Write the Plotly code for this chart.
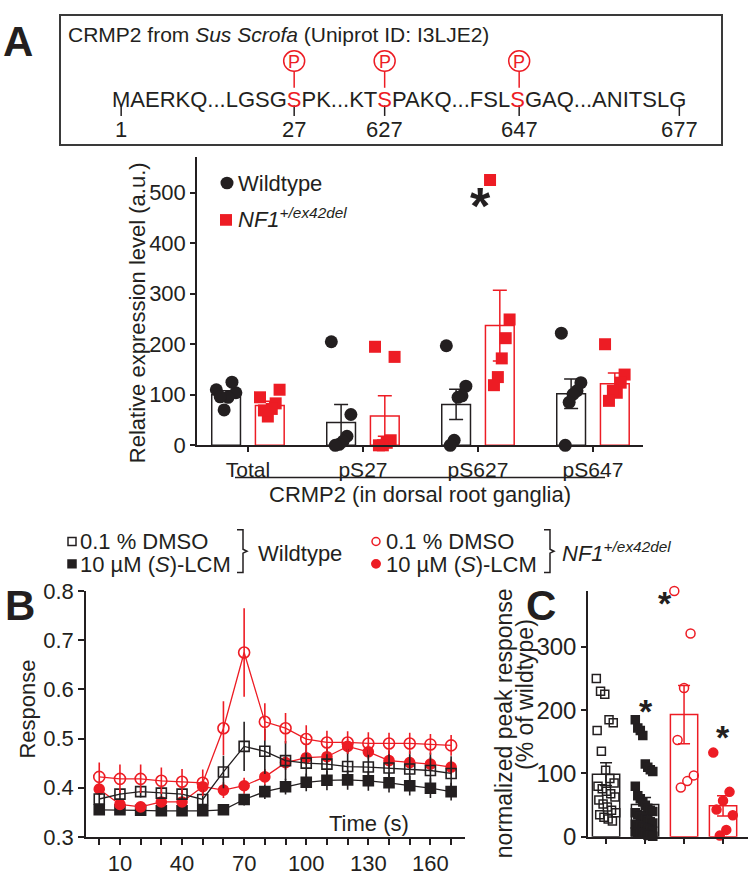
import plotly.graph_objects as go

W, H = 750, 879
def PX(x): return x / W
def PY(y): return 1 - y / H

RED = '#ED1C24'
BLK = '#231F20'
FONT = 'Liberation Sans, Arial, sans-serif'

# ---------------- data: panel A ----------------
categories = ['Total', 'pS27', 'pS627', 'pS647']
wt_mean = [100, 45, 81, 102]
wt_sem = [8, 36, 30, 29]
nf1_mean = [79, 58, 237, 122]
nf1_sem = [8, 40, 70, 21]
wt_points = [[110, 104, 125, 95, 70, 96],
             [205, 61, 18, 8, 2, 0],
             [197, 117, 98, 95, 10, 0],
             [222, 124, 108, 101, 85, 0]]
nf1_points = [[95, 110, 83, 72, 57, 69],
              [195, 175, 10, 5, 0, 0],
              [525, 249, 212, 172, 135, 119],
              [200, 140, 124, 104, 108, 88]]
yA_ticks = [0, 100, 200, 300, 400, 500]

# ---------------- data: panel B ----------------
time_s = [0, 10, 20, 30, 40, 50, 60, 70, 80, 90, 100, 110, 120, 130, 140, 150, 160, 170]
time_labeled = [10, 40, 70, 100, 130, 160]
wt_dmso = [0.377, 0.387, 0.392, 0.389, 0.387, 0.376, 0.432, 0.484, 0.474, 0.455, 0.450, 0.448,
           0.443, 0.442, 0.440, 0.438, 0.435, 0.429]
wt_dmso_err = [0.012, 0.012, 0.012, 0.012, 0.012, 0.020, 0.033, 0.050, 0.046, 0.040, 0.037, 0.036,
               0.036, 0.036, 0.036, 0.036, 0.036, 0.035]
wt_lcm = [0.355, 0.355, 0.354, 0.353, 0.353, 0.353, 0.355, 0.376, 0.392, 0.402, 0.411, 0.415,
          0.416, 0.414, 0.410, 0.404, 0.399, 0.392]
wt_lcm_err = [0.008, 0.008, 0.008, 0.008, 0.008, 0.008, 0.008, 0.012, 0.015, 0.016, 0.018, 0.020,
              0.020, 0.020, 0.020, 0.020, 0.020, 0.018]
nf_dmso = [0.422, 0.418, 0.418, 0.414, 0.412, 0.410, 0.521, 0.675, 0.534, 0.521, 0.499, 0.492,
           0.492, 0.490, 0.490, 0.490, 0.488, 0.486]
nf_dmso_err = [0.029, 0.029, 0.029, 0.027, 0.026, 0.027, 0.055, 0.090, 0.038, 0.031, 0.028, 0.024,
               0.023, 0.023, 0.022, 0.022, 0.021, 0.021]
nf_lcm = [0.397, 0.366, 0.361, 0.371, 0.371, 0.402, 0.395, 0.404, 0.422, 0.451, 0.461, 0.463,
          0.484, 0.473, 0.455, 0.451, 0.448, 0.442]
nf_lcm_err = [0.012, 0.010, 0.008, 0.010, 0.010, 0.014, 0.016, 0.016, 0.016, 0.015, 0.015, 0.015,
              0.015, 0.015, 0.015, 0.015, 0.015, 0.015]

# ---------------- data: panel C ----------------
c_mean = [99, 51, 193, 49]
c_sem = [18, 11, 46, 16]
c_wt_dmso = [250, 230, 225, 185, 180, 168, 135, 105, 92, 85, 80, 76, 72, 68, 63, 58, 52, 47,
             42, 38, 35, 31, 28, 25]
c_wt_lcm = [185, 172, 168, 160, 115, 110, 106, 103, 80, 65, 60, 55, 50, 45, 42, 40, 38, 35, 32,
            30, 28, 26, 24, 22, 20, 18, 16, 15, 13, 12, 10, 9, 8, 7, 6, 5, 4, 3, 2, 1]
c_nf_dmso = [388, 321, 235, 153, 97, 88, 78]
c_nf_lcm = [133, 71, 57, 43, 34, 11, 2]
yC_ticks = [0, 100, 200, 300]


def spread(n, w):
    if n == 1:
        return [0.0]
    return [w * (((i * 5) % n) / (n - 1) - 0.5) for i in range(n)]


fig = go.Figure()

# ---------- Panel A chart ----------
xa_wt = [i - 0.19 for i in range(4)]
xa_nf = [i + 0.19 for i in range(4)]
fig.add_trace(go.Bar(x=xa_wt, y=wt_mean, width=0.25,
                     marker=dict(color='white', line=dict(color=BLK, width=1.5)),
                     error_y=dict(type='data', array=wt_sem, color=BLK, thickness=1.5, width=7),
                     xaxis='x', yaxis='y'))
fig.add_trace(go.Bar(x=xa_nf, y=nf1_mean, width=0.25,
                     marker=dict(color='white', line=dict(color=RED, width=1.5)),
                     error_y=dict(type='data', array=nf1_sem, color=RED, thickness=1.5, width=7),
                     xaxis='x', yaxis='y'))
px_wt, py_wt, px_nf, py_nf = [], [], [], []
for i in range(4):
    for d, v in zip(spread(len(wt_points[i]), 0.17), wt_points[i]):
        px_wt.append(xa_wt[i] + d); py_wt.append(v)
    for d, v in zip(spread(len(nf1_points[i]), 0.17), nf1_points[i]):
        px_nf.append(xa_nf[i] + d); py_nf.append(v)
fig.add_trace(go.Scatter(x=px_wt, y=py_wt, mode='markers', cliponaxis=False,
                         marker=dict(symbol='circle', size=13, color=BLK), xaxis='x', yaxis='y'))
fig.add_trace(go.Scatter(x=px_nf, y=py_nf, mode='markers', cliponaxis=False,
                         marker=dict(symbol='square', size=12, color=RED), xaxis='x', yaxis='y'))

# ---------- Panel B ----------
def lineTrace(y, err, color, symbol, size):
    return go.Scatter(x=time_s, y=y, mode='lines+markers', cliponaxis=False,
                      line=dict(color=color, width=1.3),
                      marker=dict(symbol=symbol, size=size, color=color, line=dict(width=1.6, color=color)),
                      error_y=dict(type='data', array=err, color=color, thickness=1.6, width=0),
                      xaxis='x2', yaxis='y2')

fig.add_trace(lineTrace(wt_lcm, wt_lcm_err, BLK, 'square', 10))
fig.add_trace(lineTrace(nf_lcm, nf_lcm_err, RED, 'circle', 10))
fig.add_trace(lineTrace(wt_dmso, wt_dmso_err, BLK, 'square-open', 10))
fig.add_trace(lineTrace(nf_dmso, nf_dmso_err, RED, 'circle-open', 11))

# ---------- Panel C ----------
fig.add_trace(go.Bar(x=[0, 1], y=c_mean[:2], width=0.7,
                     marker=dict(color='white', line=dict(color=BLK, width=1.5)),
                     error_y=dict(type='data', array=c_sem[:2], color=BLK, thickness=1.5, width=6),
                     xaxis='x3', yaxis='y3'))
fig.add_trace(go.Bar(x=[2, 3], y=c_mean[2:], width=0.7,
                     marker=dict(color='white', line=dict(color=RED, width=1.5)),
                     error_y=dict(type='data', array=c_sem[2:], color=RED, thickness=1.5, width=6),
                     xaxis='x3', yaxis='y3'))
groupsC = [(c_wt_dmso, 'square-open', BLK, 8), (c_wt_lcm, 'square', BLK, 8),
           (c_nf_dmso, 'circle-open', RED, 9), (c_nf_lcm, 'circle', RED, 9)]
for gi, (vals, sym, col, sz) in enumerate(groupsC):
    xs = [gi + d for d in spread(len(vals), 0.5)]
    fig.add_trace(go.Scatter(x=xs, y=vals, mode='markers', cliponaxis=False,
                             marker=dict(symbol=sym, size=sz, color=col, line=dict(width=1.5, color=col)),
                             xaxis='x3', yaxis='y3'))

axis_common = dict(showline=True, linecolor=BLK, linewidth=1.5, ticks='outside', tickcolor=BLK,
                   tickwidth=1.5, showgrid=False, zeroline=False, fixedrange=True)

B_BOT, B_TOP = 849, 596

fig.update_layout(
    width=W, height=H, margin=dict(l=0, r=0, t=0, b=0),
    paper_bgcolor='white', plot_bgcolor='white', showlegend=False, barmode='overlay',
    font=dict(family=FONT, color=BLK),
    xaxis=dict(domain=[PX(197), PX(643)], range=[-0.443, 3.435], tickvals=[0, 1, 2, 3],
               ticktext=categories, ticklen=5, tickfont=dict(size=21), anchor='y', **axis_common),
    yaxis=dict(domain=[PY(446), PY(149)], range=[0, 571], tickvals=yA_ticks, ticklen=5,
               tickfont=dict(size=22), anchor='x', **axis_common),
    xaxis2=dict(domain=[PX(86), PX(465)], range=[-6.4, 176.7], tickvals=time_labeled,
                ticklen=6, tickfont=dict(size=22), anchor='y2',
                minor=dict(tickvals=time_s, ticks='outside', ticklen=6, tickcolor=BLK, tickwidth=1.5),
                **axis_common),
    yaxis2=dict(domain=[PY(B_BOT), PY(B_TOP)], range=[0.3, 0.8], dtick=0.1, tick0=0.3, tickformat='.1f',
                ticklen=6, tickfont=dict(size=22), anchor='x2', **axis_common),
    xaxis3=dict(domain=[PX(588), PX(748)], range=[-0.463, 3.64], tickvals=[0, 1, 2, 3],
                showticklabels=False, ticklen=5, anchor='y3', **axis_common),
    yaxis3=dict(domain=[PY(B_BOT), PY(B_TOP)], range=[0, 388], tickvals=yC_ticks, ticklen=5,
                tickfont=dict(size=24), anchor='x3', **axis_common),
)

ann = []
def txt(x, y, s, size=22, xanchor='left', yanchor='middle', color=BLK, angle=0, family=FONT):
    ann.append(dict(x=PX(x), y=PY(y), xref='paper', yref='paper', text=s, showarrow=False,
                    xanchor=xanchor, yanchor=yanchor, textangle=angle,
                    font=dict(size=size, color=color, family=family)))

shapes = []
def line(x0, y0, x1, y1, color=BLK, width=1.5):
    shapes.append(dict(type='line', xref='paper', yref='paper', x0=PX(x0), y0=PY(y0),
                       x1=PX(x1), y1=PY(y1), line=dict(color=color, width=width)))

# panel letters
txt(18, 30, '<b>A</b>', size=42, xanchor='center')
txt(20, 611, '<b>B</b>', size=42, xanchor='center')
txt(541, 611, '<b>C</b>', size=42, xanchor='center')

# ---------- panel A header box ----------
shapes.append(dict(type='rect', xref='paper', yref='paper', x0=PX(60), x1=PX(722), y0=PY(137), y1=PY(3),
                   line=dict(color='#3a3a3a', width=2), fillcolor='rgba(0,0,0,0)'))
txt(66, 23, 'CRMP2 from <i>Sus Scrofa</i> (Uniprot ID: I3LJE2)', size=21)

seq_parts = ['MAERKQ...LGSG', 'S', 'PK...KT', 'S', 'PAKQ...FSL', 'S', 'GAQ...ANITSLG']
site_labels = ['27', '627', '647']
end_labels = ['1', '677']
cw = {'M': .833, 'A': .667, 'E': .667, 'R': .722, 'K': .667, 'Q': .778, '.': .278, 'L': .556,
      'G': .778, 'S': .667, 'P': .667, 'T': .611, 'F': .611, 'N': .722, 'I': .278}
SEQ_X0, SEQ_Y, SEQ_FS = 112, 90, 22
seq_html = ''
s_centers = []
cursor = SEQ_X0
for k, part in enumerate(seq_parts):
    w = sum(cw[c] for c in part) * SEQ_FS
    if k % 2 == 1:
        seq_html += '<span style="color:%s">%s</span>' % (RED, part)
        s_centers.append(cursor + w / 2)
    else:
        seq_html += part
    cursor += w
first_c = SEQ_X0 + cw['M'] * SEQ_FS / 2
last_c = cursor - cw['G'] * SEQ_FS / 2
ann.append(dict(x=PX(SEQ_X0 - 2), y=PY(SEQ_Y), xref='paper', yref='paper', text=seq_html, showarrow=False,
                xanchor='left', yanchor='middle', font=dict(size=SEQ_FS, color=BLK, family=FONT)))
for sx, lab in zip(s_centers, site_labels):
    shapes.append(dict(type='circle', xref='paper', yref='paper', x0=PX(sx - 10.5), x1=PX(sx + 10.5),
                       y0=PY(61), y1=PY(40), line=dict(color=RED, width=1.5)))
    txt(sx, 51, 'P', size=18, xanchor='center', color=RED)
    line(sx, 61, sx, 78, color=RED)
    line(sx, 96, sx, 107)
    txt(sx, 121, lab, size=22, xanchor='center')
for sx, lab in zip([first_c, last_c], end_labels):
    line(sx, 96, sx, 107)
    txt(sx, 121, lab, size=22, xanchor='center')

# ---------- panel A chart annotations ----------
shapes.append(dict(type='circle', xref='paper', yref='paper', x0=PX(220.5), x1=PX(233.5),
                   y0=PY(182.5), y1=PY(169.5), fillcolor=BLK, line=dict(width=0)))
shapes.append(dict(type='rect', xref='paper', yref='paper', x0=PX(220), x1=PX(232),
                   y0=PY(220), y1=PY(208), fillcolor=RED, line=dict(width=0)))
txt(236, 177, 'Wildtype', size=22)
txt(236, 212, '<i>NF1</i><sup><i>+/ex42del</i></sup>', size=22)
txt(137, 310, 'Relative expression level (a.u.)', size=22, xanchor='center', angle=-90)
line(235, 479, 605, 479)
txt(420, 497, 'CRMP2 (in dorsal root ganglia)', size=22, xanchor='center')
txt(480, 200, '<b>*</b>', size=52, xanchor='center')

# ---------- legend for B / C ----------
shapes.append(dict(type='rect', xref='paper', yref='paper', x0=PX(68), x1=PX(76), y0=PY(549), y1=PY(541),
                   line=dict(color=BLK, width=1.5), fillcolor='white'))
shapes.append(dict(type='rect', xref='paper', yref='paper', x0=PX(68), x1=PX(76), y0=PY(572), y1=PY(564),
                   line=dict(color=BLK, width=1.5), fillcolor=BLK))
txt(78, 545, '0.1 % DMSO', size=22)
txt(78, 569, '10 µM (<i>S</i>)-LCM', size=22)
shapes.append(dict(type='path', xref='paper', yref='paper', line=dict(color=BLK, width=1.5),
                   path='M %f %f L %f %f L %f %f L %f %f L %f %f L %f %f L %f %f' % (
                       PX(237), PY(533), PX(243), PY(533), PX(243), PY(553), PX(247), PY(555),
                       PX(243), PY(557), PX(243), PY(577), PX(237), PY(577))))
txt(256, 557, 'Wildtype', size=22)
shapes.append(dict(type='circle', xref='paper', yref='paper', x0=PX(372), x1=PX(380), y0=PY(549), y1=PY(541),
                   line=dict(color=RED, width=1.5)))
shapes.append(dict(type='circle', xref='paper', yref='paper', x0=PX(371), x1=PX(381), y0=PY(573), y1=PY(563),
                   fillcolor=RED, line=dict(width=0)))
txt(384, 545, '0.1 % DMSO', size=22)
txt(384, 569, '10 µM (<i>S</i>)-LCM', size=22)
shapes.append(dict(type='path', xref='paper', yref='paper', line=dict(color=BLK, width=1.5),
                   path='M %f %f L %f %f L %f %f L %f %f L %f %f L %f %f L %f %f' % (
                       PX(544), PY(533), PX(550), PY(533), PX(550), PY(553), PX(554), PY(555),
                       PX(550), PY(557), PX(550), PY(577), PX(544), PY(577))))
txt(560, 556, '<i>NF1</i><sup><i>+/ex42del</i></sup>', size=22)

# ---------- panel B annotations ----------
txt(28, 718, 'Response', size=22, xanchor='center', angle=-90)
txt(369, 835, 'Time (s)', size=22, xanchor='center')

# ---------- panel C annotations ----------
txt(504, 732, 'normalized peak response', size=23, xanchor='center', angle=-90)
txt(525, 703, '(% of wildtype)', size=23, xanchor='center', angle=-90)
txt(646, 719, '<b>*</b>', size=34, xanchor='center')
txt(665, 608, '<b>*</b>', size=34, xanchor='center')
txt(723, 746, '<b>*</b>', size=34, xanchor='center')

fig.update_layout(annotations=ann, shapes=shapes)
fig.write_html('out.html', config={'displayModeBar': False},
               post_script="document.body.style.margin='0px';document.body.style.overflow='hidden';")
